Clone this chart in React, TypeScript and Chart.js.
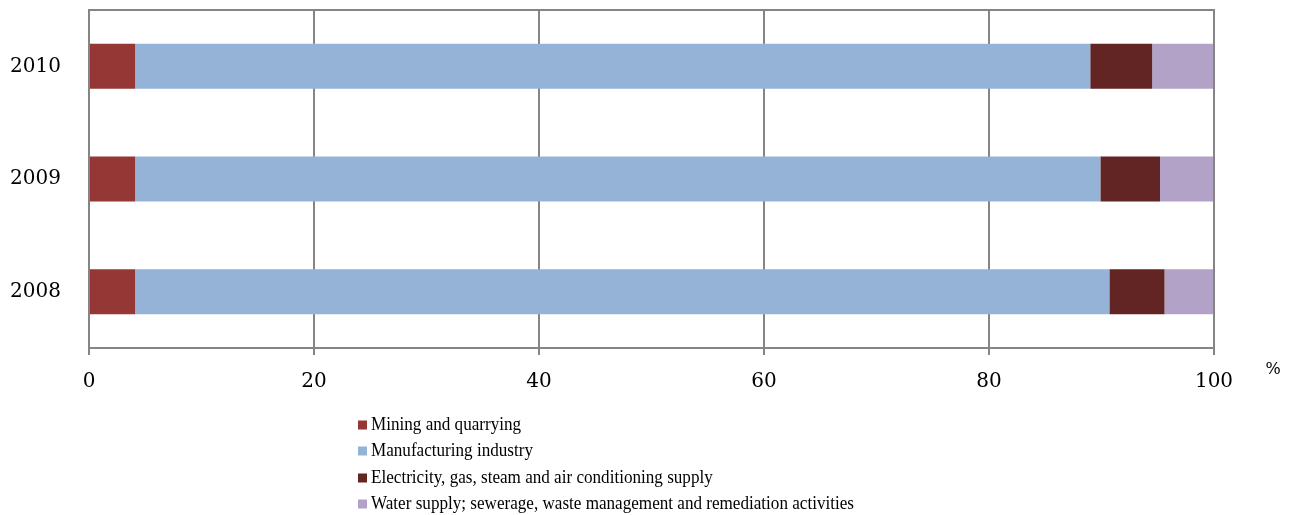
import React, { useEffect, useRef } from "react";
import { Chart, registerables } from "chart.js";

Chart.register(...registerables);

const categories = ["2010", "2009", "2008"];
const mining = [4.1, 4.1, 4.1];
const manufacturing = [84.9, 85.8, 86.6];
const electricity = [5.5, 5.3, 4.9];
const water = [5.5, 4.8, 4.4];
const seriesNames = [
  "Mining and quarrying",
  "Manufacturing industry",
  "Electricity, gas, steam and air conditioning supply",
  "Water supply; sewerage, waste management and remediation activities",
];
const seriesColors = ["#953735", "#95B3D7", "#632523", "#B3A2C7"];
const xTickMin = 0;
const xTickMax = 100;
const xTickStep = 20;
const unitLabel = "%";

const GRAY = "#858585";

const framePlugin = {
  id: "frameAndLegend",
  afterDraw(chart: any) {
    const { ctx, chartArea } = chart;
    ctx.save();
    // frame
    ctx.strokeStyle = GRAY;
    ctx.lineWidth = 2;
    ctx.beginPath();
    ctx.moveTo(chartArea.left, chartArea.top);
    ctx.lineTo(chartArea.right, chartArea.top);
    ctx.lineTo(chartArea.right, chartArea.bottom);
    ctx.stroke();
    // unit label
    ctx.fillStyle = "#000";
    ctx.font = "16px 'DejaVu Serif'";
    ctx.textAlign = "center";
    ctx.textBaseline = "middle";
    ctx.fillText(unitLabel, 1273, 370);
    // legend
    const ys = [425, 451, 478, 504];
    chart.data.datasets.forEach((ds: any, i: number) => {
      const y = ys[i];
      ctx.fillStyle = ds.backgroundColor;
      ctx.fillRect(358, y - 4.5, 9, 9);
      ctx.save();
      ctx.translate(371, y);
      ctx.scale(0.9, 1);
      ctx.font = "19px 'Liberation Serif'";
      ctx.textAlign = "left";
      ctx.textBaseline = "middle";
      ctx.fillStyle = "#000";
      ctx.fillText(ds.label, 0, 0);
      ctx.restore();
    });
    ctx.restore();
  },
};

export default function App() {
  const ref = useRef<HTMLCanvasElement>(null);
  useEffect(() => {
    const seriesData = [mining, manufacturing, electricity, water];
    const chart = new Chart(ref.current!, {
      type: "bar",
      data: {
        labels: categories,
        datasets: seriesData.map((d, i) => ({
          label: seriesNames[i],
          data: d,
          backgroundColor: seriesColors[i],
          borderWidth: 0,
          categoryPercentage: 1,
          barPercentage: 0.4,
        })),
      },
      options: {
        indexAxis: "y",
        animation: false,
        responsive: true,
        maintainAspectRatio: false,
        layout: { padding: { left: 0, top: 10, right: 81, bottom: 125 } },
        plugins: { legend: { display: false }, tooltip: { enabled: false } },
        scales: {
          x: {
            stacked: true,
            min: xTickMin,
            max: xTickMax,
            ticks: {
              stepSize: xTickStep,
              padding: 15,
              color: "#000",
              font: { family: "'DejaVu Serif'", size: 20 },
            },
            grid: { color: GRAY, lineWidth: 2, tickLength: 7, drawTicks: true },
            border: { display: true, color: GRAY, width: 2 },
            afterFit: (s: any) => {
              s.height = 42;
              s.paddingLeft = 0;
              s.paddingRight = 0;
            },
          },
          y: {
            stacked: true,
            ticks: {
              padding: 28,
              color: "#000",
              font: { family: "'DejaVu Serif'", size: 20 },
            },
            grid: { display: false, drawTicks: false },
            border: { display: true, color: GRAY, width: 2 },
            afterFit: (s: any) => {
              s.width = 89;
              s.paddingTop = 0;
              s.paddingBottom = 0;
            },
          },
        },
      },
      plugins: [framePlugin],
    });
    return () => chart.destroy();
  }, []);
  return (
    <div style={{ position: "fixed", left: 0, top: 0, width: 1295, height: 515, background: "#fff" }}>
      <canvas ref={ref} />
    </div>
  );
}
